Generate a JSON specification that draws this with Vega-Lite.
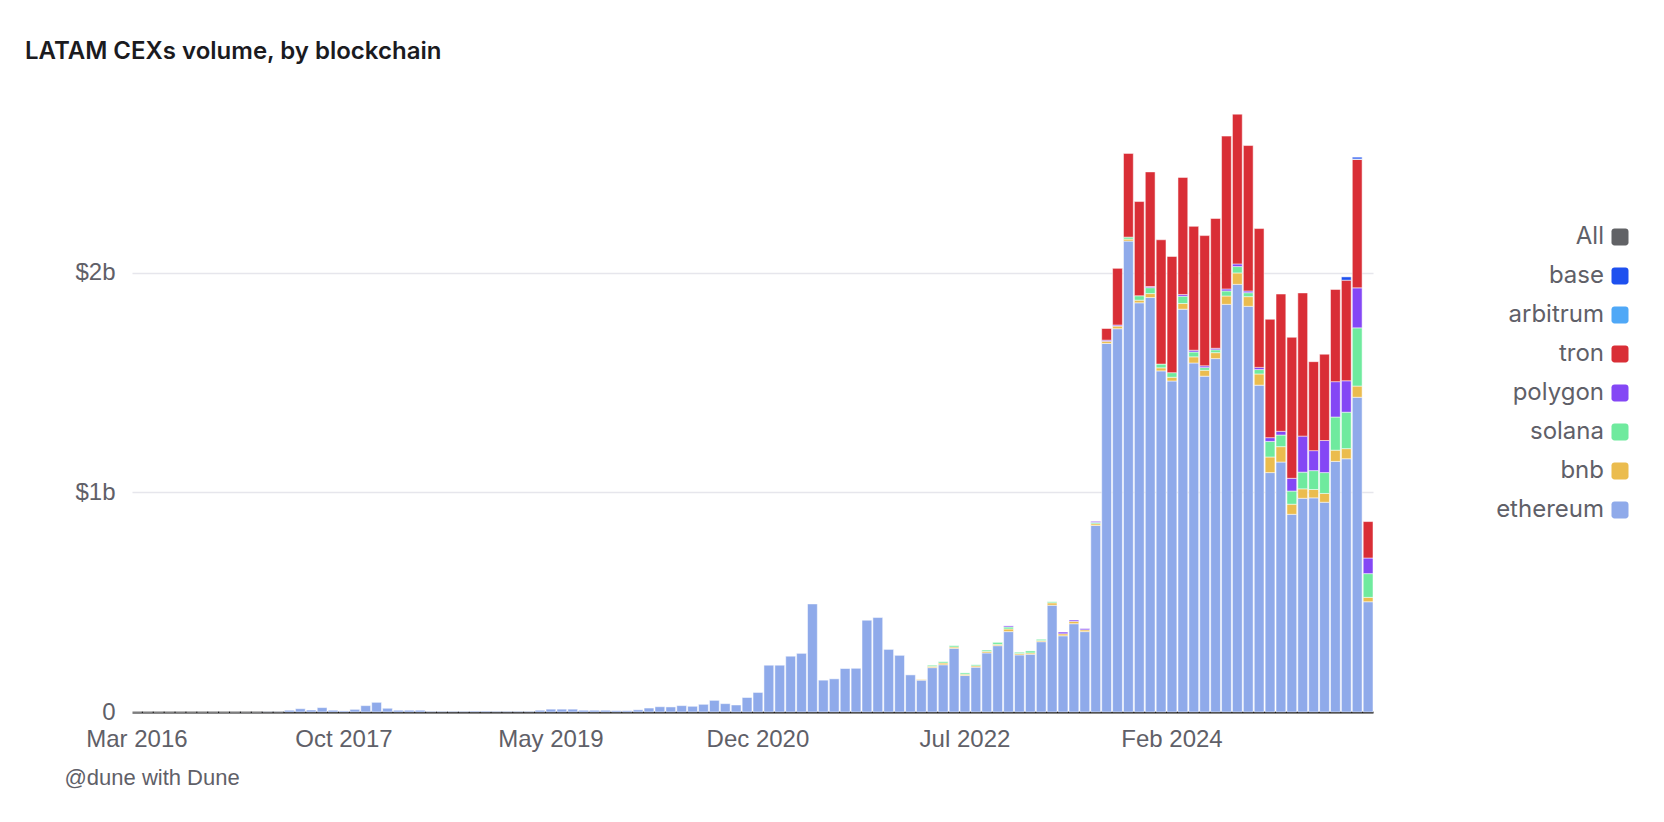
{
  "$schema": "https://vega.github.io/schema/vega-lite/v6.json",
  "width": 1241,
  "height": 615,
  "autosize": {"type": "none"},
  "padding": {"left": 132, "top": 97, "right": 291, "bottom": 110},
  "background": "white",
  "title": {
    "text": "LATAM CEXs volume, by blockchain",
    "anchor": "start",
    "frame": "group",
    "dx": -107,
    "offset": 14,
    "baseline": "alphabetic",
    "font": "Inter",
    "fontSize": 24,
    "fontWeight": 600,
    "color": "#1b1b1f"
  },
  "data": {
    "values": [
      {"m": "2016-03", "ethereum": 0},
      {"m": "2016-04", "ethereum": 0},
      {"m": "2016-05", "ethereum": 0},
      {"m": "2016-06", "ethereum": 0},
      {"m": "2016-07", "ethereum": 0},
      {"m": "2016-08", "ethereum": 0},
      {"m": "2016-09", "ethereum": 0},
      {"m": "2016-10", "ethereum": 0},
      {"m": "2016-11", "ethereum": 0},
      {"m": "2016-12", "ethereum": 0},
      {"m": "2017-01", "ethereum": 0},
      {"m": "2017-02", "ethereum": 0},
      {"m": "2017-03", "ethereum": 0.001},
      {"m": "2017-04", "ethereum": 0.001},
      {"m": "2017-05", "ethereum": 0.008},
      {"m": "2017-06", "ethereum": 0.015},
      {"m": "2017-07", "ethereum": 0.009},
      {"m": "2017-08", "ethereum": 0.020},
      {"m": "2017-09", "ethereum": 0.008},
      {"m": "2017-10", "ethereum": 0.005},
      {"m": "2017-11", "ethereum": 0.012},
      {"m": "2017-12", "ethereum": 0.029},
      {"m": "2018-01", "ethereum": 0.044},
      {"m": "2018-02", "ethereum": 0.017},
      {"m": "2018-03", "ethereum": 0.008},
      {"m": "2018-04", "ethereum": 0.008},
      {"m": "2018-05", "ethereum": 0.008},
      {"m": "2018-06", "ethereum": 0.003},
      {"m": "2018-07", "ethereum": 0.003},
      {"m": "2018-08", "ethereum": 0.003},
      {"m": "2018-09", "ethereum": 0.003},
      {"m": "2018-10", "ethereum": 0.004},
      {"m": "2018-11", "ethereum": 0.004},
      {"m": "2018-12", "ethereum": 0.003},
      {"m": "2019-01", "ethereum": 0.003},
      {"m": "2019-02", "ethereum": 0.003},
      {"m": "2019-03", "ethereum": 0.003},
      {"m": "2019-04", "ethereum": 0.008},
      {"m": "2019-05", "ethereum": 0.013},
      {"m": "2019-06", "ethereum": 0.013},
      {"m": "2019-07", "ethereum": 0.013},
      {"m": "2019-08", "ethereum": 0.008},
      {"m": "2019-09", "ethereum": 0.008},
      {"m": "2019-10", "ethereum": 0.008},
      {"m": "2019-11", "ethereum": 0.006},
      {"m": "2019-12", "ethereum": 0.006},
      {"m": "2020-01", "ethereum": 0.010},
      {"m": "2020-02", "ethereum": 0.018},
      {"m": "2020-03", "ethereum": 0.024},
      {"m": "2020-04", "ethereum": 0.023},
      {"m": "2020-05", "ethereum": 0.029},
      {"m": "2020-06", "ethereum": 0.026},
      {"m": "2020-07", "ethereum": 0.035},
      {"m": "2020-08", "ethereum": 0.053},
      {"m": "2020-09", "ethereum": 0.038},
      {"m": "2020-10", "ethereum": 0.032},
      {"m": "2020-11", "ethereum": 0.066},
      {"m": "2020-12", "ethereum": 0.089},
      {"m": "2021-01", "ethereum": 0.213},
      {"m": "2021-02", "ethereum": 0.213},
      {"m": "2021-03", "ethereum": 0.254},
      {"m": "2021-04", "ethereum": 0.267},
      {"m": "2021-05", "ethereum": 0.492},
      {"m": "2021-06", "ethereum": 0.145},
      {"m": "2021-07", "ethereum": 0.151},
      {"m": "2021-08", "ethereum": 0.198},
      {"m": "2021-09", "ethereum": 0.199},
      {"m": "2021-10", "ethereum": 0.418},
      {"m": "2021-11", "ethereum": 0.430},
      {"m": "2021-12", "ethereum": 0.285},
      {"m": "2022-01", "ethereum": 0.258},
      {"m": "2022-02", "ethereum": 0.169},
      {"m": "2022-03", "ethereum": 0.145, "bnb": 0.003},
      {"m": "2022-04", "ethereum": 0.202, "bnb": 0.006, "solana": 0.005},
      {"m": "2022-05", "ethereum": 0.215, "bnb": 0.008, "solana": 0.006},
      {"m": "2022-06", "ethereum": 0.290, "bnb": 0.006, "solana": 0.006},
      {"m": "2022-07", "ethereum": 0.166, "bnb": 0.006, "solana": 0.006},
      {"m": "2022-08", "ethereum": 0.204, "bnb": 0.006, "solana": 0.005},
      {"m": "2022-09", "ethereum": 0.269, "bnb": 0.007, "solana": 0.006},
      {"m": "2022-10", "ethereum": 0.302, "bnb": 0.006, "solana": 0.009},
      {"m": "2022-11", "ethereum": 0.366, "bnb": 0.012, "solana": 0.009, "polygon": 0.005},
      {"m": "2022-12", "ethereum": 0.260, "bnb": 0.006, "solana": 0.006},
      {"m": "2023-01", "ethereum": 0.263, "bnb": 0.006, "solana": 0.009},
      {"m": "2023-02", "ethereum": 0.320, "bnb": 0.005, "solana": 0.006},
      {"m": "2023-03", "ethereum": 0.486, "bnb": 0.011, "solana": 0.005},
      {"m": "2023-04", "ethereum": 0.347, "bnb": 0.009, "polygon": 0.008},
      {"m": "2023-05", "ethereum": 0.402, "bnb": 0.011, "polygon": 0.006},
      {"m": "2023-06", "ethereum": 0.366, "bnb": 0.008, "polygon": 0.006},
      {"m": "2023-07", "ethereum": 0.849, "bnb": 0.008, "solana": 0.006, "polygon": 0.005},
      {"m": "2023-08", "ethereum": 1.678, "bnb": 0.010, "polygon": 0.005, "tron": 0.053},
      {"m": "2023-09", "ethereum": 1.745, "bnb": 0.012, "polygon": 0.005, "tron": 0.258},
      {"m": "2023-10", "ethereum": 2.144, "bnb": 0.009, "solana": 0.009, "tron": 0.381},
      {"m": "2023-11", "ethereum": 1.863, "bnb": 0.012, "solana": 0.020, "tron": 0.429},
      {"m": "2023-12", "ethereum": 1.887, "bnb": 0.018, "solana": 0.027, "polygon": 0.005, "tron": 0.522},
      {"m": "2024-01", "ethereum": 1.553, "bnb": 0.014, "solana": 0.017, "tron": 0.566},
      {"m": "2024-02", "ethereum": 1.507, "bnb": 0.017, "solana": 0.021, "tron": 0.529},
      {"m": "2024-03", "ethereum": 1.834, "bnb": 0.026, "solana": 0.033, "polygon": 0.008, "tron": 0.533},
      {"m": "2024-04", "ethereum": 1.589, "bnb": 0.028, "solana": 0.022, "polygon": 0.008, "tron": 0.564},
      {"m": "2024-05", "ethereum": 1.529, "bnb": 0.027, "solana": 0.012, "polygon": 0.008, "tron": 0.593},
      {"m": "2024-06", "ethereum": 1.609, "bnb": 0.027, "solana": 0.013, "polygon": 0.007, "tron": 0.591},
      {"m": "2024-07", "ethereum": 1.856, "bnb": 0.038, "solana": 0.023, "polygon": 0.009, "tron": 0.696},
      {"m": "2024-08", "ethereum": 1.947, "bnb": 0.052, "solana": 0.029, "polygon": 0.012, "tron": 0.682},
      {"m": "2024-09", "ethereum": 1.847, "bnb": 0.044, "solana": 0.018, "polygon": 0.008, "tron": 0.662},
      {"m": "2024-10", "ethereum": 1.488, "bnb": 0.051, "solana": 0.020, "polygon": 0.010, "tron": 0.632},
      {"m": "2024-11", "ethereum": 1.090, "bnb": 0.071, "solana": 0.071, "polygon": 0.017, "tron": 0.539},
      {"m": "2024-12", "ethereum": 1.138, "bnb": 0.070, "solana": 0.053, "polygon": 0.017, "tron": 0.625},
      {"m": "2025-01", "ethereum": 0.900, "bnb": 0.046, "solana": 0.060, "polygon": 0.058, "tron": 0.642},
      {"m": "2025-02", "ethereum": 0.973, "bnb": 0.043, "solana": 0.076, "polygon": 0.164, "tron": 0.652},
      {"m": "2025-03", "ethereum": 0.975, "bnb": 0.038, "solana": 0.086, "polygon": 0.091, "tron": 0.405},
      {"m": "2025-04", "ethereum": 0.955, "bnb": 0.040, "solana": 0.095, "polygon": 0.146, "tron": 0.393},
      {"m": "2025-05", "ethereum": 1.141, "bnb": 0.051, "solana": 0.151, "polygon": 0.161, "tron": 0.420},
      {"m": "2025-06", "ethereum": 1.153, "bnb": 0.046, "solana": 0.166, "polygon": 0.143, "tron": 0.458, "base": 0.015},
      {"m": "2025-07", "ethereum": 1.433, "bnb": 0.051, "solana": 0.265, "polygon": 0.182, "tron": 0.585, "arbitrum": 0.002, "base": 0.008},
      {"m": "2025-08", "ethereum": 0.502, "bnb": 0.020, "solana": 0.108, "polygon": 0.071, "tron": 0.166}
    ]
  },
  "transform": [
    {"fold": ["ethereum", "bnb", "solana", "polygon", "tron", "arbitrum", "base"], "as": ["chain", "volume"]},
    {"filter": "isValid(datum.volume)"},
    {"calculate": "indexof(['ethereum', 'bnb', 'solana', 'polygon', 'tron', 'arbitrum', 'base'], datum.chain)", "as": "stackOrder"}
  ],
  "mark": {"type": "bar", "stroke": "white", "strokeOpacity": 0.5, "strokeWidth": 1},
  "encoding": {
    "x": {
      "field": "m",
      "type": "ordinal",
      "scale": {"paddingInner": 0.1, "paddingOuter": 0},
      "axis": {
        "values": ["2016-03", "2017-10", "2019-05", "2020-12", "2022-07", "2024-02"],
        "labelExpr": "['Jan','Feb','Mar','Apr','May','Jun','Jul','Aug','Sep','Oct','Nov','Dec'][toNumber(substring(datum.value, 5, 7)) - 1] + ' ' + substring(datum.value, 0, 4)",
        "labelAngle": 0,
        "ticks": false,
        "domainColor": "#1a1a1a",
        "domainWidth": 2,
        "labelFont": "Liberation Sans",
        "labelFontSize": 24,
        "labelColor": "#5f6068",
        "labelPadding": 15,
        "title": "@dune with Dune",
        "titleAnchor": "start",
        "titleAlign": "left",
        "titleBaseline": "middle",
        "titleX": -68,
        "titleY": 65,
        "titleFont": "Liberation Sans",
        "titleFontSize": 22,
        "titleFontWeight": "normal",
        "titleColor": "#5f6068"
      }
    },
    "y": {
      "field": "volume",
      "type": "quantitative",
      "stack": "zero",
      "scale": {"domain": [0, 2.8], "nice": false},
      "axis": {
        "values": [0, 1, 2],
        "labelExpr": "datum.value == 0 ? '0' : '$' + datum.value + 'b'",
        "domain": false,
        "ticks": false,
        "gridColor": "#e6e6ec",
        "gridWidth": 1.5,
        "labelFont": "Liberation Sans",
        "labelFontSize": 24,
        "labelColor": "#5f6068",
        "labelPadding": 17,
        "title": null
      }
    },
    "color": {
      "field": "chain",
      "type": "nominal",
      "scale": {
        "domain": ["All", "base", "arbitrum", "tron", "polygon", "solana", "bnb", "ethereum"],
        "range": ["#616266", "#1e50ef", "#4fa8f7", "#d92e36", "#8447f5", "#6fea9e", "#ebbc4e", "#8faaea"]
      },
      "legend": {
        "orient": "none",
        "legendX": 1476,
        "legendY": 128,
        "title": null,
        "padding": 0,
        "symbolType": "M-0.65,-1H0.65A0.35,0.35 0 0 1 1,-0.65V0.65A0.35,0.35 0 0 1 0.65,1H-0.65A0.35,0.35 0 0 1 -1,0.65V-0.65A0.35,0.35 0 0 1 -0.65,-1Z",
        "symbolSize": 289,
        "symbolStrokeWidth": 0,
        "symbolOpacity": 1,
        "labelAlign": "right",
        "labelOffset": -28,
        "labelBaseline": "middle",
        "labelFont": "Inter",
        "labelFontSize": 24,
        "labelColor": "#5f6068",
        "rowPadding": 15
      }
    },
    "order": {"field": "stackOrder", "type": "quantitative", "sort": "ascending"}
  },
  "config": {"view": {"stroke": null}}
}
